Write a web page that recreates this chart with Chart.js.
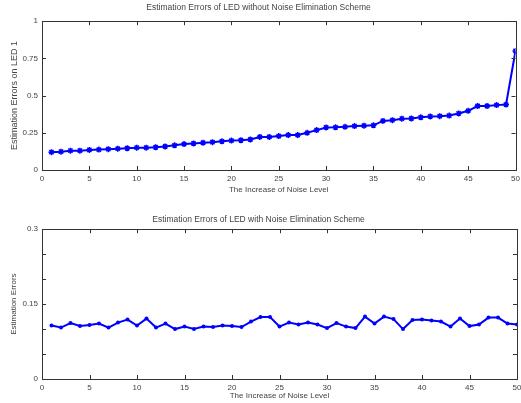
<!DOCTYPE html>
<html>
<head>
<meta charset="utf-8">
<script src="https://cdn.jsdelivr.net/npm/chart.js@4/dist/chart.umd.min.js"></script>
<style>
  body { margin: 0; background: #fff; }
  canvas { display: block; }
</style>
</head>
<body>
<canvas id="top" width="521" height="200"></canvas>
<canvas id="bottom" width="521" height="203"></canvas>
<script>
// noise levels 1..50
var noiseLevels = [1,2,3,4,5,6,7,8,9,10,11,12,13,14,15,16,17,18,19,20,21,22,23,24,25,
  26,27,28,29,30,31,32,33,34,35,36,37,38,39,40,41,42,43,44,45,46,47,48,49,50];

// errors without noise elimination
var errorsWithout = [0.12,0.123,0.13,0.13,0.135,0.137,0.14,0.143,0.146,0.15,
  0.15,0.153,0.158,0.166,0.174,0.178,0.183,0.187,0.193,0.198,
  0.2,0.205,0.222,0.222,0.228,0.235,0.235,0.25,0.268,0.286,
  0.287,0.29,0.295,0.298,0.3,0.33,0.335,0.345,0.346,0.354,
  0.36,0.362,0.366,0.38,0.398,0.43,0.43,0.436,0.44,0.80];

// errors with noise elimination
var errorsWith = [0.107,0.103,0.112,0.106,0.108,0.111,0.103,0.113,0.119,0.107,
  0.121,0.103,0.111,0.1,0.105,0.1,0.105,0.104,0.107,0.106,
  0.104,0.115,0.124,0.124,0.105,0.113,0.109,0.113,0.109,0.102,
  0.112,0.105,0.102,0.125,0.111,0.125,0.12,0.1,0.118,0.119,
  0.117,0.115,0.105,0.121,0.106,0.109,0.123,0.123,0.111,0.109];

var topTicks = [0, 0.25, 0.5, 0.75, 1];
var bottomLabelTicks = [0, 0.15, 0.3];

var FONT = 'Liberation Sans, Arial, sans-serif';
var TXT = '#444';
var BLUE = '#0000ff';

// draws the full box with inward ticks like matlab
var boxPlugin = {
  id: 'matlabBox',
  afterDraw: function (chart) {
    var ctx = chart.ctx, a = chart.chartArea;
    var x = chart.scales.x, y = chart.scales.y;
    ctx.save();
    ctx.strokeStyle = '#333';
    ctx.lineWidth = 1;
    ctx.strokeRect(Math.round(a.left) + 0.5, Math.round(a.top) + 0.5,
      Math.round(a.right - a.left), Math.round(a.bottom - a.top));
    ctx.beginPath();
    x.ticks.forEach(function (t) {
      var px = Math.round(x.getPixelForValue(t.value)) + 0.5;
      ctx.moveTo(px, a.bottom); ctx.lineTo(px, a.bottom - 4);
      ctx.moveTo(px, a.top); ctx.lineTo(px, a.top + 4);
    });
    y.ticks.forEach(function (t) {
      var py = Math.round(y.getPixelForValue(t.value)) + 0.5;
      ctx.moveTo(a.left, py); ctx.lineTo(a.left + 4, py);
      ctx.moveTo(a.right, py); ctx.lineTo(a.right - 4, py);
    });
    ctx.stroke();
    ctx.restore();
  }
};

function makeChart(id, title, titlePad, yTitle, yTitleSize, data, yMax, yStep, yLabel, pointOpts, xHeight, padBottom) {
  return new Chart(document.getElementById(id), {
    type: 'line',
    data: {
      labels: noiseLevels,
      datasets: [Object.assign({
        data: data.map(function (v, i) { return { x: noiseLevels[i], y: v }; }),
        borderColor: BLUE,
        backgroundColor: BLUE,
        borderWidth: 2,
        tension: 0
      }, pointOpts)]
    },
    options: {
      responsive: false,
      animation: false,
      layout: { padding: { right: 4, left: 0, bottom: padBottom } },
      plugins: {
        legend: { display: false },
        tooltip: { enabled: false },
        title: {
          display: true, text: title, color: TXT,
          font: { family: FONT, size: 8.5, weight: 'normal' },
          padding: titlePad
        }
      },
      scales: {
        x: {
          type: 'linear', min: 0, max: 50,
          ticks: { stepSize: 5, color: TXT, font: { family: FONT, size: 8 }, padding: 4, maxRotation: 0 },
          grid: { display: false, drawTicks: false },
          border: { display: false },
          title: { display: true, text: 'The Increase of Noise Level', color: TXT,
                   font: { family: FONT, size: 8 }, padding: 0 },
          afterFit: function (s) { s.height = xHeight; s.paddingRight = 0; s.paddingLeft = 0; }
        },
        y: {
          min: 0, max: yMax,
          ticks: { stepSize: yStep, color: TXT, font: { family: FONT, size: 8 }, padding: 4,
                   callback: yLabel },
          grid: { display: false, drawTicks: false },
          border: { display: false },
          title: { display: true, text: yTitle, color: TXT,
                   font: { family: FONT, size: yTitleSize }, padding: { top: 9, bottom: 0 } },
          afterFit: function (s) { s.width = 42; }
        }
      }
    },
    plugins: [boxPlugin]
  });
}

makeChart('top', 'Estimation Errors of LED without Noise Elimination Scheme', { top: 3, bottom: 8 },
  'Estimation Errors on LED 1', 9, errorsWithout, 1, 0.25,
  function (v) {
    var t = topTicks.find(function (k) { return Math.abs(k - v) < 1e-6; });
    return t === undefined ? '' : String(t);
  },
  { pointStyle: 'star', pointRadius: 3, pointBorderWidth: 1.5 }, 25, 5);

makeChart('bottom', 'Estimation Errors of LED with Noise Elimination Scheme', { top: 15, bottom: 4 },
  'Estimation Errors', 8, errorsWith, 0.3, 0.05,
  function (v) {
    var t = bottomLabelTicks.find(function (k) { return Math.abs(k - v) < 1e-6; });
    return t === undefined ? '' : String(t);
  },
  { pointStyle: 'circle', pointRadius: 2, pointBorderWidth: 0 }, 22, 2);
</script>
</body>
</html>
